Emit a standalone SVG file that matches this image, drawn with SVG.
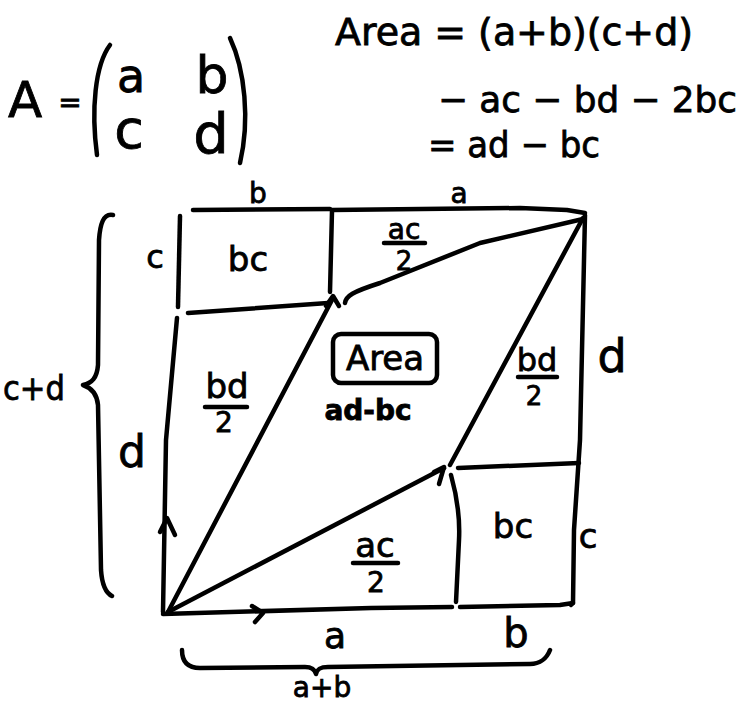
<svg xmlns="http://www.w3.org/2000/svg" width="742" height="703" viewBox="0 0 742 703">
<style>
.ln{fill:none;stroke:#000;stroke-width:4.5;stroke-linecap:round;stroke-linejoin:round}
.t{font-family:"DejaVu Sans","Liberation Sans",sans-serif;fill:#000;stroke:#000;stroke-width:0.8;text-anchor:middle}
.s{text-anchor:start}
</style>
<rect width="742" height="703" fill="#fff"/>
<g id="matrix">
<text class="t" x="25" y="117" font-size="50">A</text>
<text class="t" x="70" y="112" font-size="28">=</text>
<path class="ln" d="M110,45 C95,65 91,110 97,155"/>
<path class="ln" d="M230,38 C245,70 250,120 240,163"/>
<text class="t" x="131" y="92" font-size="46">a</text>
<text class="t" x="212" y="93" font-size="52">b</text>
<text class="t" x="129" y="148" font-size="54">c</text>
<text class="t" x="211" y="153" font-size="56">d</text>
</g>
<g id="formula">
<text class="t s" x="335" y="45" font-size="38" textLength="358" lengthAdjust="spacingAndGlyphs">Area = (a+b)(c+d)</text>
<text class="t s" x="438" y="112" font-size="36" textLength="299" lengthAdjust="spacingAndGlyphs">− ac − bd − 2bc</text>
<text class="t s" x="428" y="157" font-size="36" textLength="172" lengthAdjust="spacingAndGlyphs">= ad − bc</text>
</g>
<g id="connectors">
<path class="ln" d="M193,210 L330,209"/>
<path class="ln" d="M332,210 L520,208 L567,210 L585,213"/>
<path class="ln" d="M585,215 L580,440 L574,530 L573,603 L571,605"/>
<path class="ln" d="M180,216 L178,307"/>
<path class="ln" d="M332,211 L330,292"/>
<path class="ln" d="M188,313 L328,303"/>
<path class="ln" d="M177,318 L166,440 L163,612"/>
<path class="ln" d="M163,614 L371,608 L452,607"/>
<path class="ln" d="M460,607 L560,605 L573,603"/>
<path class="ln" d="M451,475 C458,500 460,520 459,540 L456,602"/>
<path class="ln" d="M458,468 L579,463"/>
<path class="ln" d="M168,612 L332,300"/>
<path class="ln" d="M168,612 L444,468"/>
<path class="ln" d="M450,465 L583,218"/>
<path class="ln" d="M345,303 C346,296 352,292 380,283 L480,243 L583,219"/>
<path class="ln" d="M252,606 L263,613 L255,622"/>
<path class="ln" d="M160,532 L167,518 L175,535"/>
<path class="ln" d="M434,472 L444,467 L439,484"/>
<path class="ln" d="M326,306 L333,296 L339,306"/>
</g>
<g id="braces">
<path class="ln" d="M113,215 C103,213 100,225 99,240 L98,365 C97,378 92,383 83,385 C92,388 97,395 98,405 L101,570 C102,585 106,593 112,596"/>
<path class="ln" d="M182,650 C182,662 188,668 200,668 L305,667 C312,667 315,670 316,674 C317,669 320,667 328,667 L530,664 C540,664 547,658 550,650"/>
</g>
<g id="labels">
<text class="t" x="258" y="203" font-size="28">b</text>
<text class="t" x="459" y="203" font-size="28">a</text>
<text class="t" x="155" y="268" font-size="32">c</text>
<text class="t" x="248" y="271" font-size="34">bc</text>
<text class="t" x="404" y="239" font-size="28">ac</text>
<path class="ln" d="M384,243 L425,243"/>
<text class="t" x="404" y="270" font-size="26">2</text>
<text class="t" x="227" y="398" font-size="34">bd</text>
<path class="ln" d="M205,407 L247,407"/>
<text class="t" x="224" y="432" font-size="28">2</text>
<text class="t" x="537" y="371" font-size="32">bd</text>
<path class="ln" d="M518,377 L557,377"/>
<text class="t" x="534" y="405" font-size="26">2</text>
<text class="t" x="612" y="372" font-size="46">d</text>
<text class="t" x="132" y="467" font-size="44">d</text>
<text class="t s" x="3" y="400" font-size="34" textLength="62" lengthAdjust="spacingAndGlyphs">c+d</text>
<text class="t" x="375" y="557" font-size="34">ac</text>
<path class="ln" d="M353,563 L398,563"/>
<text class="t" x="376" y="592" font-size="28">2</text>
<text class="t" x="513" y="538" font-size="34">bc</text>
<text class="t" x="588" y="548" font-size="34">c</text>
<text class="t" x="335" y="648" font-size="36">a</text>
<text class="t" x="516" y="647" font-size="40">b</text>
<text class="t" x="322" y="697" font-size="28">a+b</text>
</g>
<g id="area">
<rect class="ln" x="333" y="334" width="104" height="49" rx="8"/>
<text class="t" x="385" y="370" font-size="34">Area</text>
<text class="t" x="368" y="420" font-size="28" font-weight="bold">ad-bc</text>
</g>
</svg>
